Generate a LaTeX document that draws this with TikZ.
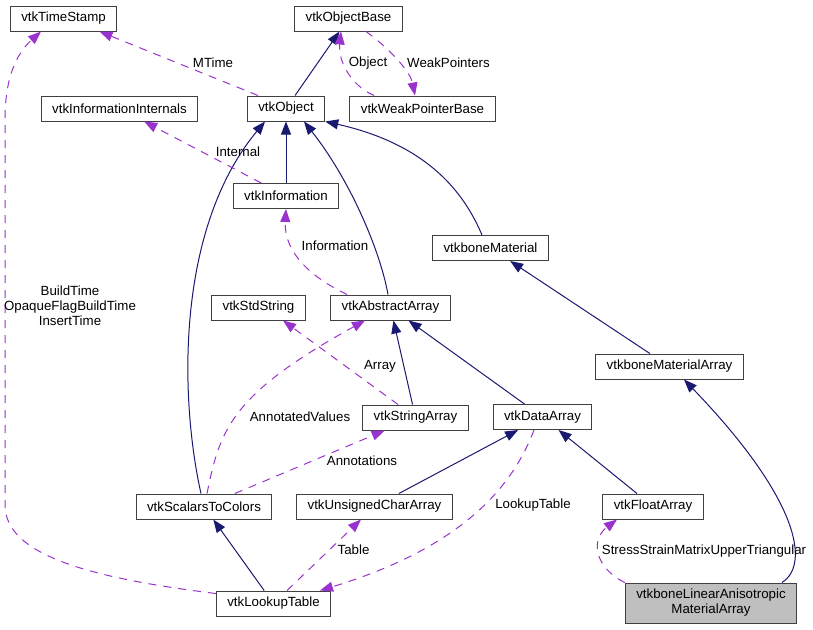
\documentclass[tikz,border=0pt]{standalone}
\usepackage{fontspec}
\setmainfont{Liberation Sans}
\usetikzlibrary{arrows.meta}
\definecolor{inhblue}{HTML}{191970}
\definecolor{usepurple}{HTML}{9A32CD}

\begin{document}
\begin{tikzpicture}[x=1pt, y=-1pt, font=\fontsize{13.3}{15}\selectfont,
	cls/.style={draw=black!75, line width=1pt, fill=white, inner xsep=11pt, inner ysep=0pt, minimum height=25pt},
	inh/.style={inhblue, line width=1pt, -{Triangle[length=13pt,width=10pt]}},
	use/.style={usepurple, line width=1pt, dash pattern=on 8pt off 7pt, -{Triangle[length=13pt,width=10pt]}},
	lbl/.style={inner sep=0pt}]
	\useasboundingbox (0,0) rectangle (813,629);

	\node[cls] (timestamp) at (63.5, 18.5) {vtkTimeStamp};
	\node[cls] (objectbase) at (348.5, 18.5) {vtkObjectBase};
	\node[cls] (infointernals) at (119.5, 108.5) {vtkInformationInternals};
	\node[cls] (object) at (286, 108.5) {vtkObject};
	\node[cls] (weakptr) at (422.5, 108.5) {vtkWeakPointerBase};
	\node[cls] (information) at (286, 196) {vtkInformation};
	\node[cls] (bonematerial) at (490.5, 248) {vtkboneMaterial};
	\node[cls] (stdstring) at (258.5, 307.5) {vtkStdString};
	\node[cls] (abstractarray) at (390.5, 307.5) {vtkAbstractArray};
	\node[cls] (bonematarray) at (669.5, 366.5) {vtkboneMaterialArray};
	\node[cls] (stringarray) at (415.5, 417.5) {vtkStringArray};
	\node[cls] (dataarray) at (542.5, 417) {vtkDataArray};
	\node[cls] (scalarstocolors) at (204, 506.5) {vtkScalarsToColors};
	\node[cls] (ucarray) at (374.5, 506.5) {vtkUnsignedCharArray};
	\node[cls] (floatarray) at (653, 506.5) {vtkFloatArray};
	\node[cls] (lookuptable) at (273.5, 603.5) {vtkLookupTable};
	\node[cls, fill=black!25, minimum height=40pt, align=center] (linaniso) at (711, 603) {vtkboneLinearAnisotropic\\MaterialArray};

	\draw[inh] (object) -- (objectbase);
	\draw[inh] (information) -- (object);
	\draw[inh] ([xshift=-3pt]scalarstocolors.north) .. controls (180,400) and (175,230) .. ([xshift=-21pt]object.south);
	\draw[inh] ([xshift=-2.5pt]abstractarray.north) .. controls (380,250) and (350,180) .. ([xshift=18pt]object.south);
	\draw[inh] ([xshift=-8.5pt]bonematerial.north) .. controls (465,195) and (430,145) .. (object.south east);
	\draw[inh] (bonematarray) -- (bonematerial);
	\draw[inh] (stringarray) -- (abstractarray);
	\draw[inh] (dataarray) -- (abstractarray);
	\draw[inh] (ucarray) -- (dataarray);
	\draw[inh] (floatarray) -- (dataarray);
	\draw[inh] (lookuptable) -- (scalarstocolors);
	\draw[inh] ([xshift=71pt]linaniso.north) .. controls (810,565) and (800,500) .. ([xshift=14.5pt]bonematarray.south);

	\draw[use] ([xshift=-28pt]object.north) -- ([xshift=36pt]timestamp.south);
	\draw[use] ([xshift=-48.5pt]weakptr.north) .. controls (350,85) and (338,60) .. ([xshift=-7.5pt]objectbase.south);
	\draw[use] ([xshift=17.5pt]objectbase.south) .. controls (385,45) and (410,70) .. ([xshift=-7.5pt]weakptr.north);
	\draw[use] (information) -- (infointernals);
	\draw[use] ([xshift=-43.5pt]abstractarray.north) .. controls (300,272) and (284,245) .. (information.south);
	\draw[use] ([xshift=-17.5pt]stringarray.north) -- ([xshift=24.5pt]stdstring.south);
	\draw[use] ([xshift=3pt]scalarstocolors.north) .. controls (220,430) and (230,395) .. ([xshift=-25.5pt]abstractarray.south);
	\draw[use] (scalarstocolors) -- (stringarray);
	\draw[use] ([yshift=-3pt]lookuptable.north west) .. controls (90,578) and (5,555) .. (5,505) -- (5,120) .. controls (5,80) and (15,55) .. ([xshift=-22.5pt]timestamp.south);
	\draw[use] (lookuptable) -- (ucarray);
	\draw[use] ([xshift=-8.5pt]dataarray.south) .. controls (515,480) and (470,545) .. ([xshift=46.5pt]lookuptable.north);
	\draw[use] (linaniso.north west) .. controls (595,568) and (590,540) .. ([xshift=-36pt]floatarray.south);

	\node[lbl] (lmtime) at (213, 63) {MTime};
	\node[lbl] (lobject) at (368, 63) {Object};
	\node[lbl] (lweak) at (448.5, 63) {WeakPointers};
	\node[lbl] (linternal) at (238, 152) {Internal};
	\node[lbl] (linfo) at (335, 246) {Information};
	\node[lbl, align=center] (lbuild) at (70, 306) {BuildTime\\OpaqueFlagBuildTime\\InsertTime};
	\node[lbl] (larray) at (380, 366) {Array};
	\node[lbl] (lannval) at (300, 417) {AnnotatedValues};
	\node[lbl] (lannot) at (362, 461) {Annotations};
	\node[lbl] (ltable) at (353.5, 550) {Table};
	\node[lbl] (llookup) at (533, 505) {LookupTable};
	\node[lbl] (lstress) at (704, 551) {StressStrainMatrixUpperTriangular};
\end{tikzpicture}
\end{document}
